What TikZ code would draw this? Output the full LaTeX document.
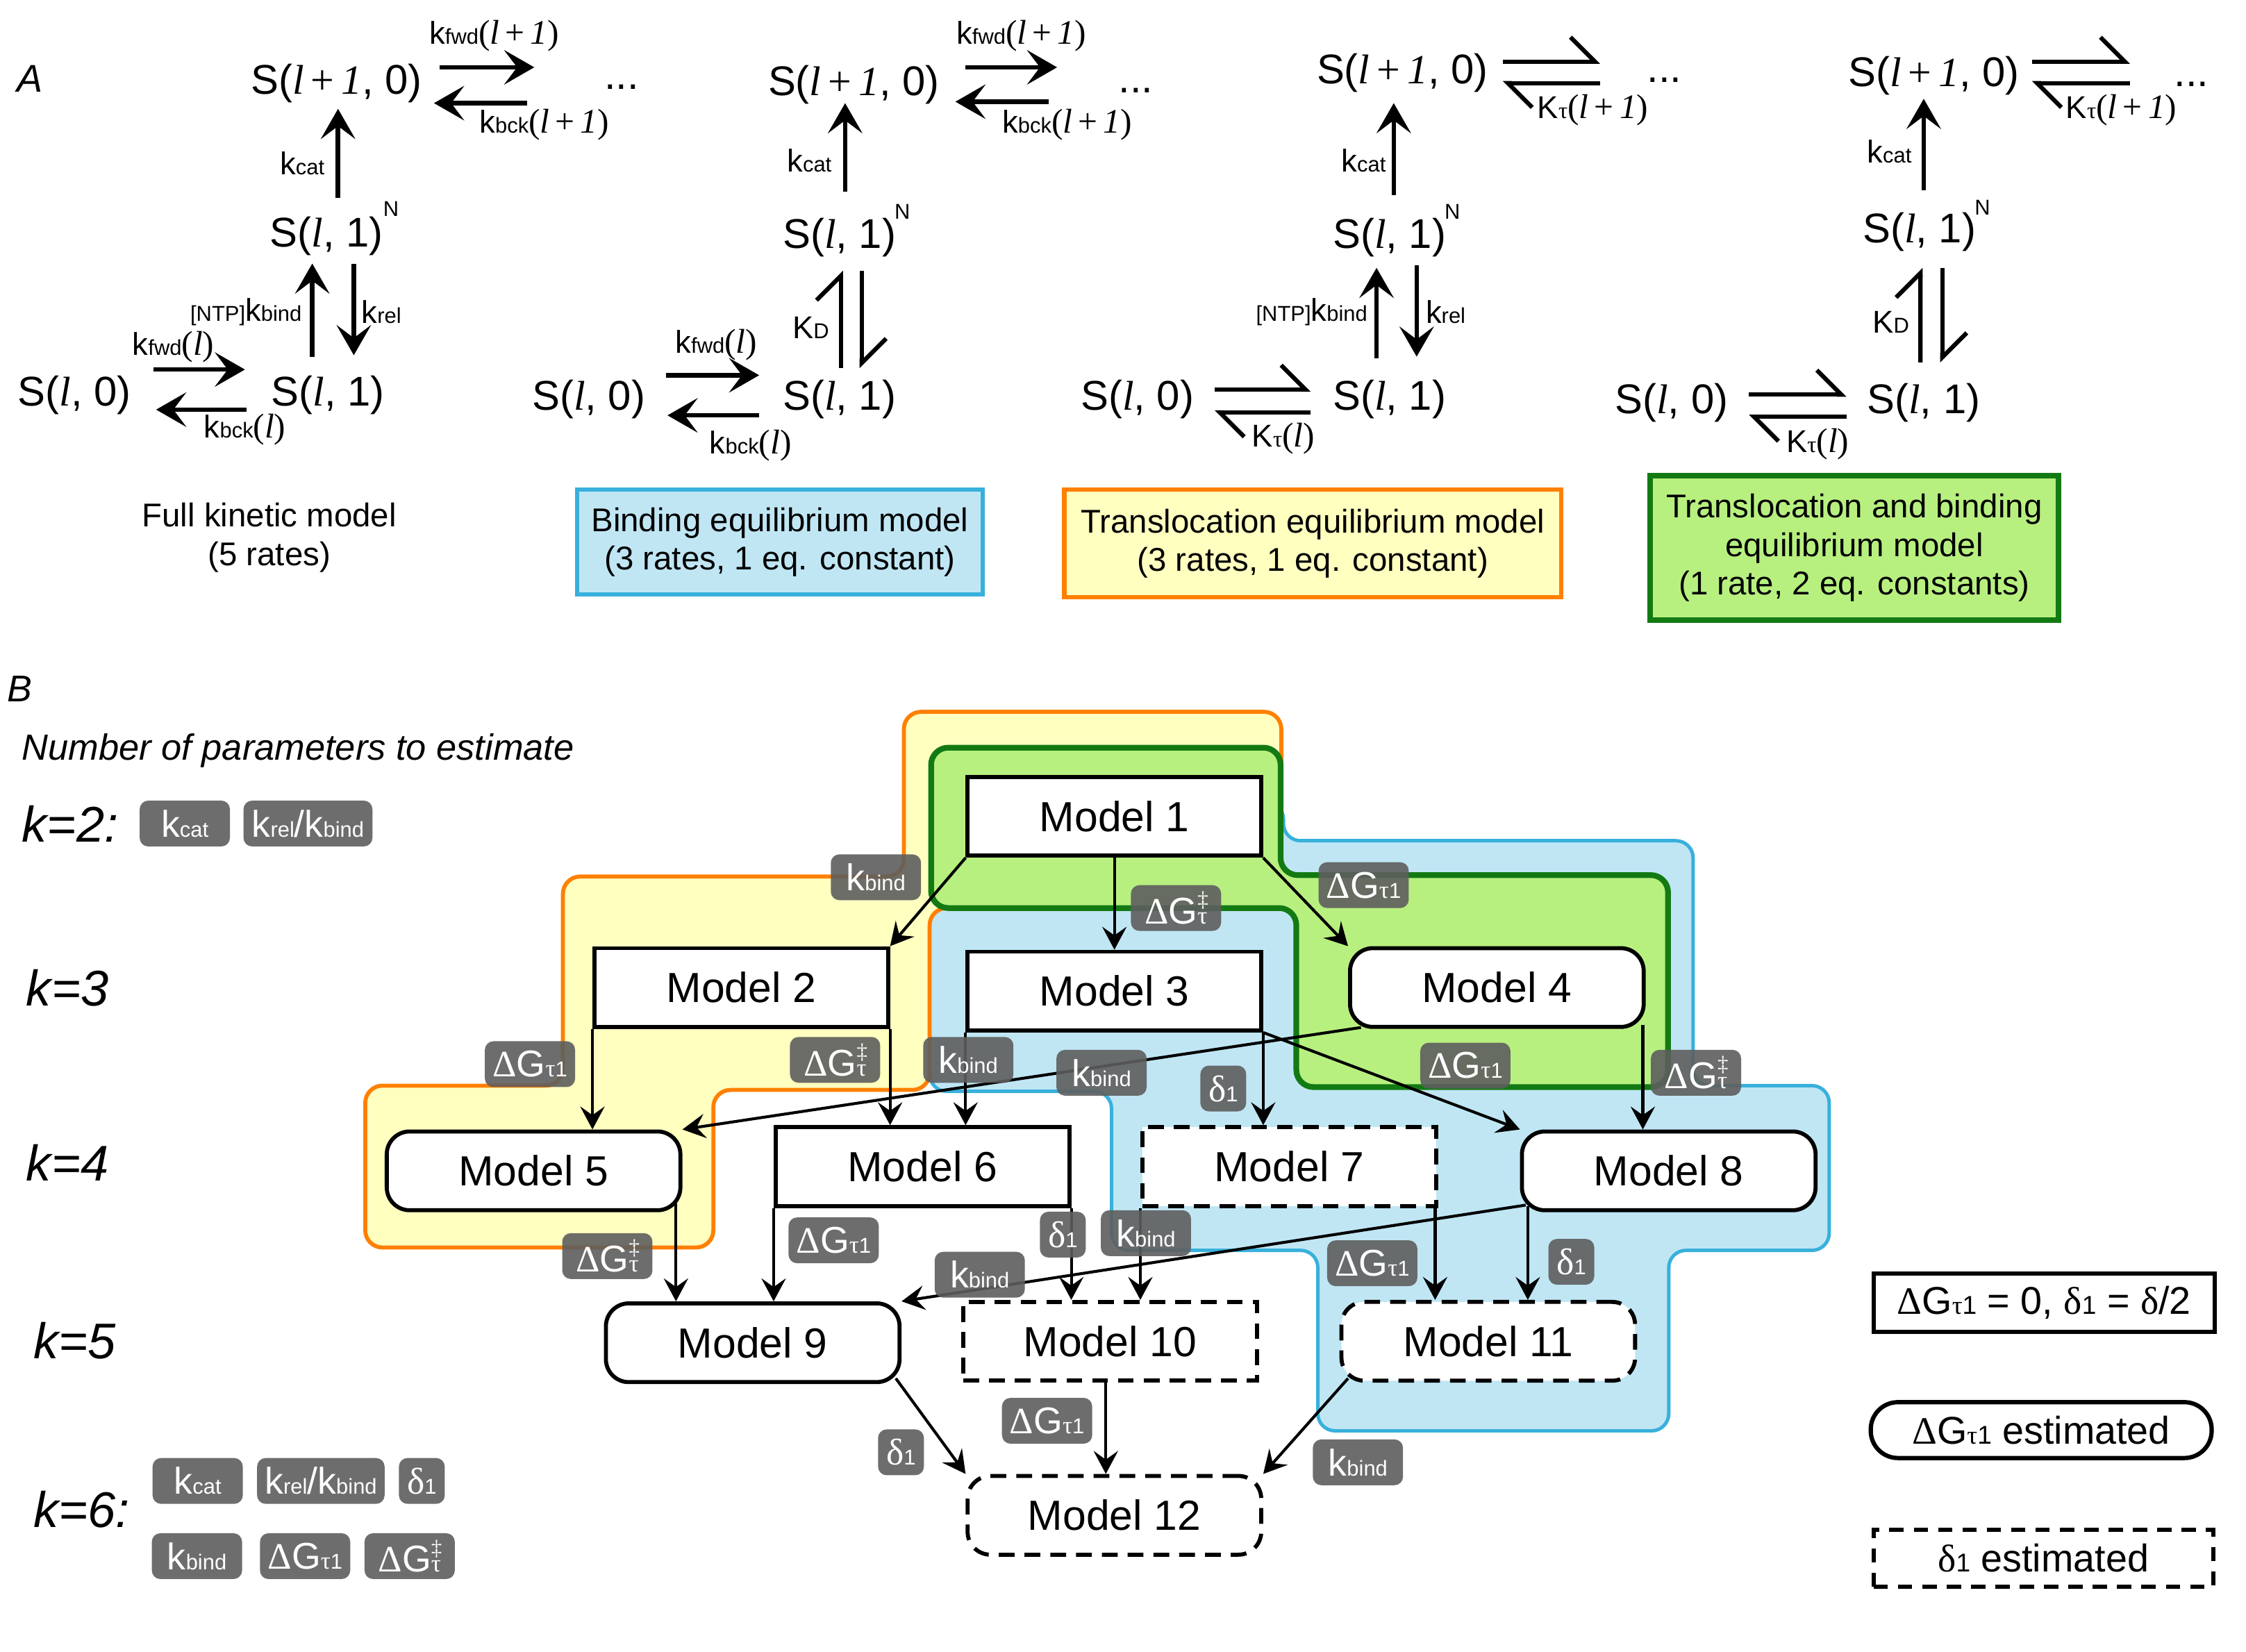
\documentclass[tikz,border=0pt]{standalone}
\usepackage{fontspec}
\setmainfont{Liberation Sans}
\newfontfamily\tms{Liberation Serif}
\usetikzlibrary{arrows.meta,calc}
\newcommand{\fsz}[1]{\fontsize{#1}{#1}\selectfont}
\newcommand{\il}{{\tms\itshape l}}
\newcommand{\lpo}{{\tms\itshape l\,\upshape+\,\itshape 1}}
\newcommand{\rk}[1]{{\fsz{11}k}{\fsz{7.5}#1}}
\newcommand{\rpa}{{\tms\fsz{12}(\itshape l\,\upshape+\,\itshape 1\upshape)}}
\newcommand{\rpb}{{\tms\fsz{12}(\itshape l\upshape)}}
\newcommand{\Kt}{{\fsz{11}K}{\tms\fsz{8}τ}}
\newcommand{\KD}{{\fsz{11}K}{\fsz{7.5}D}}
\newcommand{\tk}[1]{k{\fsz{7.5}#1}}
\newcommand{\tdG}{{\tms Δ}G{\tms\fsz{8.5}τ}{\fsz{7.5}1}}
\newcommand{\tdGd}{{\tms Δ}G\rlap{\raisebox{6pt}{\tms\fsz{7.5}‡}}{\tms\fsz{8.5}τ}}
\newcommand{\tdl}{{\tms δ}{\fsz{7.5}1}}
\newcommand{\lgdG}{{\tms Δ}G{\tms\fsz{9}τ}{\fsz{9}1}}
\definecolor{yel}{HTML}{FFFFC0}
\definecolor{org}{HTML}{FF8000}
\definecolor{blu}{HTML}{C0E6F4}
\definecolor{bluB}{HTML}{38B0DC}
\definecolor{grn}{HTML}{B8F080}
\definecolor{grnB}{HTML}{137A13}
\definecolor{tagc}{HTML}{5E5E5E}
\tikzset{
  species/.style={font=\fsz{14.5}, inner sep=0pt, text height=11pt, text depth=3.5pt},
  rlab/.style={inner sep=0pt},
  rate/.style={line width=1.6pt, -{Stealth[length=10.5pt,width=12pt,inset=4.5pt]}},
  eqh/.style={line width=1.5pt, -{Straight Barb[left,length=8.5pt,width=17pt]}},
  capbox/.style={draw, line width=1.5pt, align=center, inner sep=0pt, font=\fontsize{11.5}{13.5}\selectfont},
  model/.style={draw, line width=1.4pt, fill=white, minimum width=102.5pt, minimum height=27.5pt, inner sep=0pt, font=\fsz{14.7}},
  rmodel/.style={model, rounded corners=8pt},
  dmodel/.style={model, dash pattern=on 5.5pt off 3.5pt},
  drmodel/.style={model, rounded corners=8pt, dash pattern=on 5.5pt off 3.5pt},
  conn/.style={line width=1pt, -{Stealth[length=8pt,width=8.5pt,inset=3pt]}},
  ptag/.style={fill=tagc, fill opacity=0.9, text opacity=1, text=white, rounded corners=3pt, minimum height=16pt, minimum width=31.5pt, inner sep=0pt, font=\fsz{13}},
  ptagn/.style={ptag, minimum width=16pt},
  region/.style={rounded corners=6pt},
  klab/.style={font=\fsz{17.5}\itshape, anchor=west, inner sep=0pt},
}
\begin{document}
\begin{tikzpicture}[x=0.5pt,y=-0.5pt]
\useasboundingbox (0,0) rectangle (1568,1153);
\fill[white] (0,0) rectangle (1568,1153);

% ================= Section A =================
\node[font=\fsz{13.5}\itshape, inner sep=0pt] (labA) at (21,55) {A};

% ---- panel 1
\node[species] (a1) at (235,58) {S(\lpo, 0)};
\node[species] (b1) at (228,165) {S(\il, 1)};
\node[font=\fsz{7.5}, inner sep=0pt] (n1) at (273,146) {N};
\node[species] (c1) at (52,276) {S(\il, 0)};
\node[species] (d1) at (229,276) {S(\il, 1)};
\node[species] (e1) at (434,55) {...};
\draw[rate] ($(a1)+(72,-11)$) -- ++(66,0);
\draw[rate] ($(a1)+(133,14)$) -- ++(-65,0);
\draw[rate] ($(b1)+(8,-27)$) -- ($(a1)+(1,18)$);
\draw[rate] ($(d1)+(-11,-27)$) -- ($(b1)+(-10,19)$);
\draw[rate] ($(b1)+(19,19)$) -- ($(d1)+(18,-28)$);
\draw[rate] ($(c1)+(55,-18)$) -- ++(64,0);
\draw[rate] ($(c1)+(120,10)$) -- ++(-63,0);
\node[rlab] (r1a) at (345,25) {\rk{fwd}\rpa};
\node[rlab] (r1b) at (380,87) {\rk{bck}\rpa};
\node[rlab] (r1c) at (211,114) {\rk{cat}};
\node[rlab, anchor=east] (r1d) at (211,218) {{\fsz{7.5}[NTP]}\rk{bind}};
\node[rlab, anchor=west] (r1e) at (252,218) {\rk{rel}};
\node[rlab] (r1f) at (121,242) {\rk{fwd}\rpb};
\node[rlab] (r1g) at (171,300) {\rk{bck}\rpb};
\node[font=\fontsize{11.5}{13.5}\selectfont, align=center, inner sep=0pt] (bx1) at (188,375.5) {Full kinetic model\\(5 rates)};

% ---- panel 2
\node[species] (a2) at (596,59) {S(\lpo, 0)};
\node[species] (b2) at (586,166) {S(\il, 1)};
\node[font=\fsz{7.5}, inner sep=0pt] (n2) at (630,148) {N};
\node[species] (c2) at (411,279) {S(\il, 0)};
\node[species] (d2) at (586,279) {S(\il, 1)};
\node[species] (e2) at (793,57) {...};
\draw[rate] ($(a2)+(78,-12)$) -- ++(64,0);
\draw[rate] ($(a2)+(136,12)$) -- ++(-65,0);
\draw[rate] ($(b2)+(4,-32)$) -- ($(a2)+(-6,13)$);
\draw[eqh] ($(d2)+(1,-22)$) -- ($(b2)+(1,23)$);
\draw[eqh] ($(b2)+(15.6,23)$) -- ($(d2)+(15.6,-22)$);
\draw[rate] ($(c2)+(54,-17)$) -- ++(65,0);
\draw[rate] ($(c2)+(119,11)$) -- ++(-64,0);
\node[rlab] (r2a) at (713,25) {\rk{fwd}\rpa};
\node[rlab] (r2b) at (745,87) {\rk{bck}\rpa};
\node[rlab] (r2c) at (565,112) {\rk{cat}};
\node[rlab] (r2d) at (566,229) {\KD};
\node[rlab] (r2f) at (500,241) {\rk{fwd}\rpb};
\node[rlab] (r2g) at (524,311) {\rk{bck}\rpb};
\node[capbox, draw=bluB, fill=blu, minimum width=141.5pt, minimum height=36.5pt] (bx2) at (544.5,378.5) {Binding equilibrium model\\(3 rates, 1 eq. constant)};

% ---- panel 3
\node[species] (a3) at (979,51) {S(\lpo, 0)};
\node[species] (b3) at (970,166) {S(\il, 1)};
\node[font=\fsz{7.5}, inner sep=0pt] (n3) at (1014,148) {N};
\node[species] (c3) at (794,279) {S(\il, 0)};
\node[species] (d3) at (970,279) {S(\il, 1)};
\node[species] (e3) at (1162,50) {...};
\draw[eqh] ($(a3)+(70,-8)$) -- ++(68,0);
\draw[eqh] ($(a3)+(138,7)$) -- ++(-68,0);
\draw[rate] ($(b3)+(3,-30)$) -- ($(a3)+(-6,21)$);
\draw[rate] ($(d3)+(-9,-29)$) -- ($(b3)+(-9,21)$);
\draw[rate] ($(b3)+(19,19)$) -- ($(d3)+(19,-30)$);
\draw[eqh] ($(c3)+(54,-7)$) -- ++(67,0);
\draw[eqh] ($(c3)+(121,9)$) -- ++(-67,0);
\node[rlab] (r3a) at (1112,77) {\Kt\rpa};
\node[rlab] (r3c) at (952,112) {\rk{cat}};
\node[rlab, anchor=east] (r3d) at (955,218) {{\fsz{7.5}[NTP]}\rk{bind}};
\node[rlab, anchor=west] (r3e) at (995,218) {\rk{rel}};
\node[rlab] (r3f) at (896,306) {\Kt\rpb};
\node[capbox, draw=org, fill=yel, minimum width=173.5pt, minimum height=37.5pt] (bx3) at (916.5,379.5) {Translocation equilibrium model\\(3 rates, 1 eq. constant)};

% ---- panel 4
\node[species] (a4) at (1350,53) {S(\lpo, 0)};
\node[species] (b4) at (1340,162) {S(\il, 1)};
\node[font=\fsz{7.5}, inner sep=0pt] (n4) at (1384,145) {N};
\node[species] (c4) at (1167,281) {S(\il, 0)};
\node[species] (d4) at (1343,281) {S(\il, 1)};
\node[species] (e4) at (1530,53) {...};
\draw[eqh] ($(a4)+(68.5,-10)$) -- ++(68.5,0);
\draw[eqh] ($(a4)+(137,5)$) -- ++(-68.5,0);
\draw[rate] ($(b4)+(3,-29)$) -- ($(a4)+(-7,16)$);
\draw[eqh] ($(d4)+(-2.3,-28)$) -- ($(b4)+(0.7,25)$);
\draw[eqh] ($(b4)+(16,25)$) -- ($(d4)+(13,-28)$);
\draw[eqh] ($(c4)+(54,-5.5)$) -- ++(68,0);
\draw[eqh] ($(c4)+(122,10)$) -- ++(-68,0);
\node[rlab] (r4a) at (1481,77) {\Kt\rpa};
\node[rlab] (r4c) at (1319,106) {\rk{cat}};
\node[rlab] (r4d) at (1320,225) {\KD};
\node[rlab] (r4f) at (1269,310) {\Kt\rpb};
\node[capbox, draw=grnB, fill=grn, line width=2pt, minimum width=142.5pt, minimum height=50.5pt] (bx4) at (1294.5,382.5) {Translocation and binding\\equilibrium model\\(1 rate, 2 eq. constants)};

% ================= Section B =================
\node[font=\fsz{13}\itshape, inner sep=0pt] (labB) at (14,481) {B};
\node[font=\fsz{12.7}\itshape, anchor=west, inner sep=0pt] (hdr) at (15,524) {Number of parameters to estimate};
\node[klab] (k2) at (15,575) {k=2:};
\node[klab] (k3) at (18,690) {k=3};
\node[klab] (k4) at (18,812) {k=4};
\node[klab] (k5) at (23,936) {k=5};
\node[klab] (k6) at (23,1054) {k=6:};
\node[ptag] (l1) at (129,575) {\tk{cat}};
\node[ptag, minimum width=45pt] (l2) at (215,575) {\tk{rel}/\tk{bind}};
\node[ptag] (l3) at (138,1034) {\tk{cat}};
\node[ptag, minimum width=44.5pt] (l4) at (224,1034) {\tk{rel}/\tk{bind}};
\node[ptagn] (l5) at (294.5,1034) {\tdl};
\node[ptag] (l6) at (137.5,1086.5) {\tk{bind}};
\node[ptag] (l7) at (213,1086.5) {\tdG};
\node[ptag] (l8) at (286,1086.5) {\tdGd};

% regions
\draw[region, draw=bluB, fill=blu, line width=1.2pt] (712,762) -- (649,762) -- (649,560) -- (896,560) -- (896,587) -- (1182,587) -- (1182,758) -- (1277,758) -- (1277,873) -- (1165,873) -- (1165,999) -- (920,999) -- (920,873) -- (776,873) -- (776,762) -- cycle;
\draw[region, draw=org, fill=yel, line width=1.4pt] (760,497) -- (894.5,497) -- (894.5,634) -- (649,634) -- (649,761) -- (498,761) -- (498,871) -- (255,871) -- (255,758) -- (393,758) -- (393,612) -- (631,612) -- (631,497) -- cycle;
\draw[region, draw=grnB, fill=grn, line width=2pt] (770,522) -- (894,522) -- (894,611) -- (1164.5,611) -- (1164.5,759) -- (905,759) -- (905,634) -- (650,634) -- (650,522) -- cycle;

% models
\node[model] (m1) at (778,570) {Model 1};
\node[model] (m2) at (517.5,689.5) {Model 2};
\node[model] (m3) at (778,692) {Model 3};
\node[rmodel] (m4) at (1045,689.5) {Model 4};
\node[rmodel] (m5) at (372.5,817.5) {Model 5};
\node[model] (m6) at (644,814.5) {Model 6};
\node[dmodel] (m7) at (900,814.5) {Model 7};
\node[rmodel] (m8) at (1165,817.5) {Model 8};
\node[rmodel] (m9) at (525.5,937.5) {Model 9};
\node[dmodel] (m10) at (775,936.5) {Model 10};
\node[drmodel] (m11) at (1039,936.5) {Model 11};
\node[drmodel] (m12) at (778,1058) {Model 12};

% connectors
\coordinate (q7) at ($(m4.south west)+(9,-1)$);
\coordinate (q10) at ($(m4.south east)+(-2,-3)$);
\coordinate (q11) at ($(m5.south east)+(-4.5,-6)$);
\coordinate (q14) at ($(m8.south west)+(4,-5)$);
\coordinate (q16) at ($(m7.south east)+(-2,0)$);
\coordinate (q17) at ($(m8.south west)+(5.5,-4)$);
\coordinate (q18) at ($(m10.south)+(-3,0)$);
\coordinate (q19) at ($(m11.south west)+(6,-3)$);
\coordinate (q20) at ($(m9.south east)+(-4,-4)$);
\draw[conn] (m1.south west) -- (m2.north east);
\draw[conn] (m1.south) -- (m3.north);
\draw[conn] (m1.south east) -- (m4.north west);
\draw[conn] (m2.south west) -- (m2.south west |- m5.north);
\draw[conn] (m2.south east) -- (m2.south east |- m6.north);
\draw[conn] (m3.south west) -- (m3.south west |- m6.north);
\draw[conn] (q7) -- (m5.north east);
\draw[conn] (m3.south east) -- (m3.south east |- m7.north);
\draw[conn] (m3.south east) -- (m8.north west);
\draw[conn] (q10) -- (q10 |- m8.north);
\draw[conn] (q11) -- (q11 |- m9.north);
\draw[conn] (m6.south west) -- (m6.south west |- m9.north);
\draw[conn] (m6.south east) -- (m6.south east |- m10.north);
\draw[conn] (q14) -- (m9.north east);
\draw[conn] (m7.south west) -- (m7.south west |- m10.north);
\draw[conn] (q16) -- (q16 |- m11.north);
\draw[conn] (q17) -- (q17 |- m11.north);
\draw[conn] (q18) -- (q18 |- m12.north);
\draw[conn] (q19) -- (m12.north east);
\draw[conn] (q20) -- (m12.north west);

% tags
\node[ptag] (t1) at (611.5,612.5) {\tk{bind}};
\node[ptag] (t2) at (821,634) {\tdGd};
\node[ptag] (t3) at (952,618) {\tdG};
\node[ptag] (t4) at (370,743) {\tdG};
\node[ptag] (t5) at (583,740) {\tdGd};
\node[ptag] (t6) at (676,740) {\tk{bind}};
\node[ptag] (t7) at (769,749) {\tk{bind}};
\node[ptagn] (t8) at (854,760) {\tdl};
\node[ptag] (t9) at (1023,744) {\tdG};
\node[ptag] (t10) at (1184,749) {\tdGd};
\node[ptag] (t11) at (424,877) {\tdGd};
\node[ptag] (t12) at (582,866) {\tdG};
\node[ptagn] (t13) at (742,862) {\tdl};
\node[ptag] (t14) at (684,890) {\tk{bind}};
\node[ptag] (t15) at (800,861) {\tk{bind}};
\node[ptag] (t16) at (958,882) {\tdG};
\node[ptagn] (t17) at (1097,881) {\tdl};
\node[ptag] (t18) at (731,992) {\tdG};
\node[ptag] (t19) at (948,1021) {\tk{bind}};
\node[ptagn] (t20) at (629,1014) {\tdl};

% legend
\node[draw, line width=1.5pt, minimum width=119pt, minimum height=20.5pt, inner sep=0pt, font=\fsz{13.5}] (lg1) at (1427,909.5) {\lgdG{} = 0, {\tms δ}{\fsz{9}1} = {\tms δ}/2};
\node[draw, line width=1.5pt, rounded corners=9.5pt, minimum width=119pt, minimum height=19.5pt, inner sep=0pt, font=\fsz{13.5}] (lg2) at (1425,998.5) {\lgdG{} estimated};
\node[draw, line width=1.5pt, dash pattern=on 5pt off 3.5pt, minimum width=118.5pt, minimum height=20pt, inner sep=0pt, font=\fsz{13.5}] (lg3) at (1426.5,1088) {{\tms δ}{\fsz{9}1} estimated};
\end{tikzpicture}
\end{document}
